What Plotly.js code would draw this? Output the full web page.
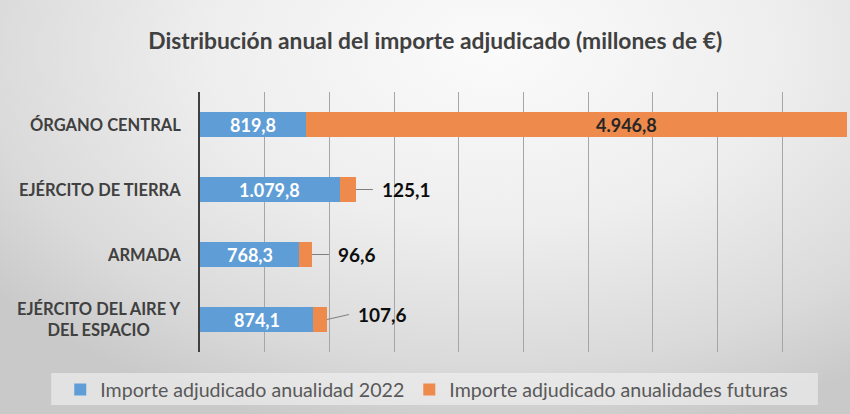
<!DOCTYPE html>
<html>
<head>
<meta charset="utf-8">
<script src="https://cdn.plot.ly/plotly-3.0.1.min.js"></script>
<style>
  html, body { margin: 0; padding: 0; }
  #chart {
    width: 850px; height: 414px;
    background: radial-gradient(ellipse 75% 95% at 58% 12%, #fbfbfb 0%, #eeeeee 45%, #dadada 80%, #c9c9c9 100%);
  }
</style>
</head>
<body>
<div id="chart"></div>
<script>
// categories, top to bottom
var categorias = ['ÓRGANO CENTRAL', 'EJÉRCITO DE TIERRA', 'ARMADA', 'EJÉRCITO DEL AIRE Y<br>DEL ESPACIO'];
var anualidad2022 = [819.8, 1079.8, 768.3, 874.1];
var futuras = [4946.8, 125.1, 96.6, 107.6];
var serieNombres = ['Importe adjudicado anualidad 2022', 'Importe adjudicado anualidades futuras'];

var azul = '#5f9dd7';
var naranja = '#ee8a4b';
var gris = '#404040';
var fuente = 'Lato, "Open Sans", sans-serif';

// spanish number format: 1.079,8
function fmt(v) {
  var partes = v.toFixed(1).split('.');
  var ent = partes[0].replace(/\B(?=(\d{3})+(?!\d))/g, '.');
  return ent + ',' + partes[1];
}

var trace1 = {
  y: categorias,
  x: anualidad2022,
  name: serieNombres[0],
  type: 'bar',
  orientation: 'h',
  marker: { color: azul },
  hoverinfo: 'x'
};

var trace2 = {
  y: categorias,
  x: futuras,
  name: serieNombres[1],
  type: 'bar',
  orientation: 'h',
  marker: { color: naranja },
  hoverinfo: 'x'
};

var data = [trace1, trace2];

// labels
var anotaciones = [];
categorias.forEach(function (c, i) {
  // category names (centred lines)
  anotaciones.push({
    xref: 'paper', yref: 'y', x: -0.026, y: c,
    xanchor: 'right', yanchor: 'middle', align: 'center',
    text: '<b>' + c + '</b>', showarrow: false,
    font: { family: fuente, size: 16.5, color: gris }
  });
  // blue values
  anotaciones.push({
    x: anualidad2022[i] / 2, y: c, text: '<b>' + fmt(anualidad2022[i]) + '</b>',
    showarrow: false, font: { family: fuente, size: 18, color: '#ffffff' }
  });
  // orange values
  if (futuras[i] > 1000) {
    anotaciones.push({
      x: anualidad2022[i] + futuras[i] / 2, y: c, text: '<b>' + fmt(futuras[i]) + '</b>',
      showarrow: false, font: { family: fuente, size: 18, color: '#262626' }
    });
  } else {
    anotaciones.push({
      x: anualidad2022[i] + futuras[i], y: c, text: '<b>' + fmt(futuras[i]) + '</b>',
      showarrow: true, arrowhead: 0, arrowwidth: 1, arrowcolor: '#7f7f7f',
      ax: i === 3 ? 22 : 17, ay: i === 3 ? -5 : 0, xanchor: 'left', standoff: 0,
      borderpad: 8,
      font: { family: fuente, size: 19, color: '#0d0d0d' }
    });
  }
});

var layout = {
  width: 850,
  height: 414,
  paper_bgcolor: 'rgba(0,0,0,0)',
  plot_bgcolor: 'rgba(0,0,0,0)',
  margin: { l: 200, r: 3, t: 92, b: 62 },
  barmode: 'stack',
  bargap: 0.61,
  font: { family: fuente, color: gris },
  title: {
    text: '<b>Distribución anual del importe adjudicado (millones de €)</b>',
    font: { family: fuente, size: 22.8, color: gris },
    x: 0.512, xanchor: 'center', y: 0.9, yanchor: 'middle'
  },
  xaxis: {
    range: [0, 5000],
    dtick: 500,
    showticklabels: false,
    showgrid: true,
    gridcolor: '#a6a6a6',
    gridwidth: 1,
    zeroline: false,
    fixedrange: true
  },
  yaxis: {
    autorange: 'reversed',
    showticklabels: false,
    showline: true,
    linecolor: '#404040',
    linewidth: 2,
    showgrid: false,
    fixedrange: true
  },
  shapes: [{
    type: 'rect', xref: 'paper', yref: 'paper',
    x0: -0.230, x1: 0.955, y0: -0.204, y1: -0.081,
    fillcolor: 'rgba(245,245,245,0.55)', line: { width: 0 }, layer: 'below'
  }],
  annotations: anotaciones,
  showlegend: true,
  legend: {
    orientation: 'h',
    x: -0.216, xanchor: 'left',
    y: -0.145, yanchor: 'middle',
    bgcolor: 'rgba(0,0,0,0)',
    font: { family: fuente, size: 19.6, color: '#595959' },
    itemwidth: 30,
    traceorder: 'normal'
  },
  hovermode: 'closest'
};

Plotly.newPlot('chart', data, layout, { displayModeBar: false, staticPlot: true });
</script>
</body>
</html>
